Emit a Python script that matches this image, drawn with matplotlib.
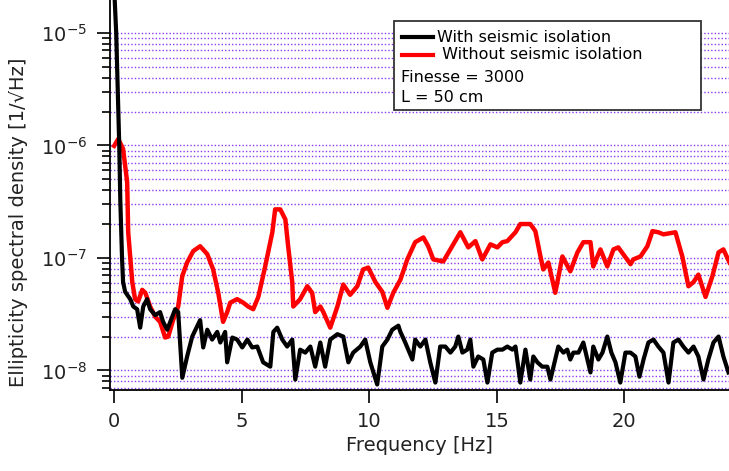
import matplotlib
matplotlib.use("Agg")
import matplotlib.pyplot as plt
from matplotlib.patches import Rectangle
from matplotlib.ticker import LogLocator, NullFormatter, LogFormatterMathtext

# With seismic isolation (black)
freq_iso = [0.00, 0.04, 0.08, 0.20, 0.24, 0.31, 0.35, 0.43, 0.63, 0.75, 0.90, 1.02, 1.14, 1.29,
            1.41, 1.61, 1.80, 1.92, 2.08, 2.20, 2.39, 2.51, 2.67, 2.86, 3.06, 3.37, 3.49, 3.65,
            3.84, 4.04, 4.16, 4.35, 4.43, 4.63, 4.82, 5.02, 5.22, 5.41, 5.61, 5.84, 6.12, 6.24,
            6.39, 6.59, 6.78, 6.98, 7.10, 7.29, 7.49, 7.69, 7.88, 8.08, 8.27, 8.47, 8.75, 8.98,
            9.18, 9.37, 9.65, 9.84, 10.04, 10.31, 10.51, 10.71, 10.90, 11.14, 11.22, 11.41, 11.69,
            11.80, 12.00, 12.20, 12.39, 12.59, 12.78, 12.98, 13.18, 13.37, 13.49, 13.65, 13.84,
            13.96, 14.08, 14.27, 14.47, 14.63, 14.82, 15.02, 15.22, 15.41, 15.61, 15.73, 15.92,
            16.12, 16.31, 16.43, 16.59, 16.78, 16.98, 17.10, 17.22, 17.41, 17.61, 17.76, 17.88,
            18.00, 18.20, 18.39, 18.55, 18.67, 18.78, 18.98, 19.14, 19.33, 19.49, 19.65, 19.84,
            20.04, 20.24, 20.43, 20.59, 20.75, 20.94, 21.14, 21.33, 21.53, 21.73, 21.92, 22.12,
            22.31, 22.51, 22.71, 22.90, 23.10, 23.29, 23.49, 23.69, 23.88, 24.08]
psd_iso = [2.5e-5, 1.6e-5, 1.0e-5, 9.9e-7, 3.3e-7, 9.7e-8, 6.1e-8, 5.0e-8, 4.3e-8, 3.7e-8, 3.5e-8,
           2.4e-8, 3.7e-8, 4.3e-8, 3.5e-8, 3.1e-8, 3.3e-8, 2.7e-8, 2.3e-8, 2.7e-8, 3.5e-8, 3.3e-8,
           8.6e-9, 1.33e-8, 2.0e-8, 2.8e-8, 1.6e-8, 2.3e-8, 1.88e-8, 2.2e-8, 1.77e-8, 2.2e-8,
           1.18e-8, 1.96e-8, 1.88e-8, 1.6e-8, 1.88e-8, 1.6e-8, 1.63e-8, 1.18e-8, 1.08e-8, 2.2e-8,
           2.4e-8, 1.88e-8, 1.63e-8, 1.88e-8, 8.3e-9, 1.53e-8, 1.44e-8, 1.63e-8, 1.08e-8, 1.77e-8,
           1.08e-8, 1.88e-8, 2.1e-8, 2.0e-8, 1.18e-8, 1.44e-8, 1.63e-8, 1.88e-8, 1.18e-8, 7.5e-9,
           1.63e-8, 1.88e-8, 2.3e-8, 2.5e-8, 2.2e-8, 1.77e-8, 1.25e-8, 1.88e-8, 1.63e-8, 1.88e-8,
           1.18e-8, 7.8e-9, 1.63e-8, 1.63e-8, 1.44e-8, 1.63e-8, 2.0e-8, 1.44e-8, 1.53e-8, 1.88e-8,
           1.08e-8, 1.33e-8, 1.25e-8, 7.8e-9, 1.44e-8, 1.53e-8, 1.53e-8, 1.63e-8, 1.53e-8, 1.63e-8,
           7.8e-9, 1.53e-8, 8.3e-9, 1.33e-8, 1.18e-8, 1.08e-8, 1.08e-8, 8.3e-9, 1.08e-8, 1.63e-8,
           1.44e-8, 1.53e-8, 1.25e-8, 1.44e-8, 1.44e-8, 1.77e-8, 1.25e-8, 9.6e-9, 1.63e-8, 1.25e-8,
           1.44e-8, 2.0e-8, 1.44e-8, 1.18e-8, 7.8e-9, 1.44e-8, 1.44e-8, 1.33e-8, 8.8e-9, 1.25e-8,
           1.77e-8, 1.88e-8, 1.63e-8, 1.44e-8, 7.8e-9, 1.77e-8, 1.88e-8, 1.63e-8, 1.44e-8, 1.63e-8,
           1.33e-8, 8.3e-9, 1.25e-8, 1.77e-8, 2.0e-8, 1.33e-8, 9.6e-9]

# Without seismic isolation (red)
freq_noiso = [0.00, 0.16, 0.35, 0.51, 0.55, 0.71, 0.82, 0.94, 1.10, 1.22, 1.41, 1.61, 1.80, 2.00,
              2.12, 2.31, 2.51, 2.67, 2.86, 3.10, 3.37, 3.65, 3.88, 4.08, 4.27, 4.43, 4.55, 4.82,
              5.06, 5.25, 5.45, 5.65, 5.92, 6.20, 6.31, 6.51, 6.71, 6.82, 6.98, 7.02, 7.29, 7.57,
              7.76, 7.88, 8.08, 8.20, 8.47, 8.75, 8.98, 9.25, 9.53, 9.76, 9.96, 10.24, 10.51, 10.71,
              10.94, 11.22, 11.49, 11.80, 12.12, 12.31, 12.51, 12.90, 13.25, 13.57, 13.88, 14.16,
              14.43, 14.75, 15.02, 15.22, 15.41, 15.73, 15.92, 16.31, 16.51, 16.71, 16.82, 17.02,
              17.29, 17.57, 17.88, 18.16, 18.39, 18.67, 18.78, 19.06, 19.33, 19.57, 19.76, 20.24,
              20.35, 20.63, 20.90, 21.10, 21.33, 21.53, 22.00, 22.27, 22.51, 22.71, 22.90, 23.18,
              23.45, 23.69, 23.88, 24.12]
psd_noiso = [9.9e-7, 1.14e-6, 9.3e-7, 4.7e-7, 1.69e-7, 6.1e-8, 4.3e-8, 4.1e-8, 5.2e-8, 4.9e-8,
             3.7e-8, 3.0e-8, 2.7e-8, 1.96e-8, 2.0e-8, 2.8e-8, 3.7e-8, 6.9e-8, 9.1e-8, 1.15e-7,
             1.27e-7, 1.08e-7, 7.9e-8, 4.9e-8, 2.7e-8, 3.3e-8, 4.0e-8, 4.3e-8, 4.0e-8, 3.7e-8,
             3.5e-8, 4.5e-8, 8.4e-8, 1.69e-7, 2.7e-7, 2.7e-7, 2.2e-7, 1.27e-7, 6.1e-8, 3.7e-8,
             4.3e-8, 5.6e-8, 4.9e-8, 3.3e-8, 3.7e-8, 3.3e-8, 2.4e-8, 3.7e-8, 5.8e-8, 4.7e-8,
             5.6e-8, 7.9e-8, 8.2e-8, 6.1e-8, 5.0e-8, 3.6e-8, 4.9e-8, 6.4e-8, 9.7e-8, 1.38e-7,
             1.52e-7, 1.27e-7, 9.7e-8, 9.3e-8, 1.27e-7, 1.69e-7, 1.24e-7, 1.41e-7, 9.7e-8, 1.32e-7,
             1.24e-7, 1.38e-7, 1.41e-7, 1.69e-7, 2.0e-7, 2.0e-7, 1.73e-7, 1.03e-7, 7.9e-8, 9.1e-8,
             4.9e-8, 1.03e-7, 7.6e-8, 1.12e-7, 1.38e-7, 1.38e-7, 8.4e-8, 1.19e-7, 8.4e-8, 1.19e-7,
             1.24e-7, 8.8e-8, 9.7e-8, 1.03e-7, 1.27e-7, 1.73e-7, 1.69e-7, 1.62e-7, 1.69e-7, 1.03e-7,
             5.6e-8, 6.1e-8, 7.1e-8, 4.5e-8, 6.9e-8, 1.12e-7, 1.19e-7, 9.1e-8]

xticks = [0, 5, 10, 15, 20]
label_iso = "With seismic isolation"
label_noiso = " Without seismic isolation"
notes = ["Finesse = 3000", "L = 50 cm"]

plt.rcParams['font.family'] = ['DejaVu Sans']

fig = plt.figure(figsize=(7.29, 4.71), dpi=100)
ax = fig.add_axes([0.151, 0.172, 0.849, 0.828])

ax.plot(freq_noiso, psd_noiso, color='#ff0000', lw=3.2, zorder=3, solid_joinstyle='round')
ax.plot(freq_iso, psd_iso, color='black', lw=3.0, zorder=4, solid_joinstyle='round')

ax.set_yscale('log')
ax.set_xlim(-0.16, 24.1)
ax.set_ylim(6.7e-9, 1.96e-5)
ax.set_xticks(xticks)
ax.yaxis.set_major_locator(LogLocator(base=10))
ax.yaxis.set_minor_locator(LogLocator(base=10, subs=range(2, 10)))
ax.yaxis.set_major_formatter(LogFormatterMathtext())
ax.yaxis.set_minor_formatter(NullFormatter())

# dotted purple grid at every decade and sub-decade
ax.grid(which='both', axis='y', color='#8a3cf5', linestyle=(0, (1, 1.5)), linewidth=1.0, zorder=1)
ax.set_axisbelow(True)

for side in ['top', 'right']:
    ax.spines[side].set_visible(False)
for side in ['left', 'bottom']:
    ax.spines[side].set_linewidth(1.3)

ax.tick_params(axis='both', which='major', direction='out', length=9.5, width=1.2,
               labelsize=14, colors='black', labelcolor='#222222')
ax.tick_params(axis='y', which='minor', direction='out', length=5.5, width=1.2)
ax.tick_params(axis='y', which='major', pad=7)
ax.tick_params(axis='x', which='major', pad=6)

ax.set_xlabel("Frequency [Hz]", fontsize=14, color='#222222')
ax.set_ylabel("Ellipticity spectral density [1/\u221aHz]", fontsize=14, color='#222222')
ax.yaxis.set_label_coords(-0.132, 0.43)

# legend box with notes
ax.add_patch(Rectangle((0.459, 0.718), 0.496, 0.228, transform=ax.transAxes,
                       facecolor='white', edgecolor='#333333', lw=1.3, zorder=6))
ax.plot([0.472, 0.522], [0.905, 0.905], transform=ax.transAxes, color='black', lw=3.0, zorder=7)
ax.plot([0.472, 0.522], [0.859, 0.859], transform=ax.transAxes, color='#ff0000', lw=3.0, zorder=7)
ax.text(0.528, 0.905, label_iso, transform=ax.transAxes, fontsize=11.5, va='center', zorder=7)
ax.text(0.528, 0.859, label_noiso, transform=ax.transAxes, fontsize=11.5, va='center', zorder=7)
ax.text(0.470, 0.800, notes[0], transform=ax.transAxes, fontsize=11.5, va='center', zorder=7)
ax.text(0.470, 0.749, notes[1], transform=ax.transAxes, fontsize=11.5, va='center', zorder=7)

fig.savefig("out.png", dpi=100)
